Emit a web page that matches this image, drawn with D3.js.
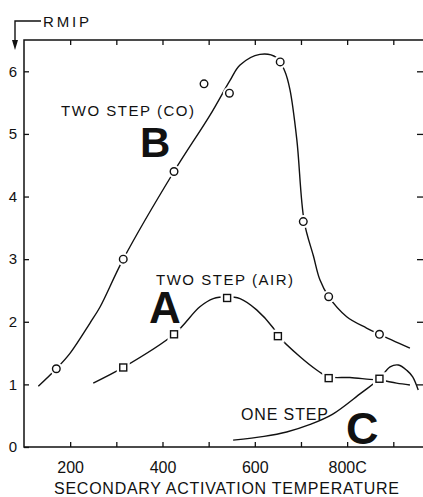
<!DOCTYPE html>
<html>
<head>
<meta charset="utf-8">
<script src="https://cdn.jsdelivr.net/npm/d3@7"></script>
<style>
  body { margin: 0; background: #fff; }
  text { font-family: "Liberation Sans", Arial, sans-serif; fill: #111; }
</style>
</head>
<body>
<svg id="chart"></svg>
<script>
// measured points (markers)
const bTemp = [170, 315, 425, 490, 545, 655, 705, 760, 870];
const bRmip = [1.25, 3.0, 4.4, 5.8, 5.65, 6.15, 3.6, 2.4, 1.8];
const aTemp = [315, 425, 540, 650, 760, 870];
const aRmip = [1.27, 1.8, 2.38, 1.77, 1.1, 1.09];

// hand drawn curves
const bCurveTemp = [131, 170, 200, 243, 265, 315, 425, 503, 546, 568, 611, 647, 665, 676, 691, 707, 727, 741, 760, 799, 842, 870, 936];
const bCurveRmip = [0.97, 1.25, 1.5, 1.98, 2.24, 3.0, 4.4, 5.3, 5.85, 6.1, 6.27, 6.22, 6.0, 5.71, 4.91, 3.6, 3.05, 2.67, 2.4, 2.08, 1.9, 1.8, 1.58];
const aCurveTemp = [250, 315, 425, 481, 510, 540, 568, 604, 640, 650, 698, 734, 760, 806, 849, 870, 907, 936];
const aCurveRmip = [1.02, 1.27, 1.8, 2.24, 2.37, 2.4, 2.37, 2.19, 1.9, 1.78, 1.44, 1.23, 1.12, 1.11, 1.08, 1.07, 1.02, 0.99];
const cCurveTemp = [553, 620, 669, 720, 768, 830, 870, 893, 911, 930, 942, 954];
const cCurveRmip = [0.11, 0.17, 0.24, 0.36, 0.52, 0.86, 1.09, 1.28, 1.31, 1.22, 1.12, 0.91];

const xTicks = [200, 300, 400, 500, 600, 700, 800, 900];
const xTickLabels = ["200", "", "400", "", "600", "", "800C", ""];
const yTicks = [0, 1, 2, 3, 4, 5, 6];

const W = 423, H = 497;
const m = { left: 24, right: 423, top: 40, bottom: 447 };

const svg = d3.select("#chart").attr("width", W).attr("height", H);
svg.append("rect").attr("width", W).attr("height", H).attr("fill", "#fff");

const x = d3.scaleLinear().domain([100, 960]).range([m.left, 421]);
const y = d3.scaleLinear().domain([0, 6.5]).range([m.bottom, m.top]);

const toPts = (xs, ys) => xs.map((t, i) => [t, ys[i]]);

// frame
svg.append("path")
  .attr("d", `M${m.right},${m.top}H${m.left}V${m.bottom}H${m.right}`)
  .attr("stroke", "#111").attr("stroke-width", 1.5).attr("fill", "none");

// axes
const tickStyle = g => {
  g.select(".domain").remove();
  g.selectAll(".tick line").attr("stroke", "#111").attr("stroke-width", 1.3);
};

svg.append("g")
  .attr("transform", `translate(${m.left},0)`)
  .call(d3.axisLeft(y).tickValues(yTicks).tickSize(-5).tickPadding(7).tickFormat(d3.format("d")))
  .call(tickStyle)
  .selectAll("text").style("font-size", "15px").style("font-family", "Liberation Sans, Arial, sans-serif");

svg.append("g")
  .attr("transform", `translate(0,${m.bottom})`)
  .call(d3.axisBottom(x).tickValues(xTicks).tickSize(-5).tickPadding(15).tickFormat((d, i) => xTickLabels[i]))
  .call(tickStyle)
  .selectAll("text").style("font-size", "16px").style("font-family", "Liberation Sans, Arial, sans-serif");

svg.append("g")
  .attr("transform", `translate(0,${m.top})`)
  .call(d3.axisTop(x).tickValues(xTicks).tickSize(-5).tickFormat(""))
  .call(tickStyle);

svg.append("g")
  .attr("transform", `translate(${m.right},0)`)
  .call(d3.axisRight(y).tickValues(yTicks.slice(1)).tickSize(-6).tickFormat(""))
  .call(tickStyle);

// curves
const line = d3.line().x(d => x(d[0])).y(d => y(d[1])).curve(d3.curveCatmullRom.alpha(0.5));
const curves = svg.append("g").attr("fill", "none").attr("stroke", "#111").attr("stroke-width", 1.4);
curves.append("path").attr("d", line(toPts(bCurveTemp, bCurveRmip)));
curves.append("path").attr("d", line(toPts(aCurveTemp, aCurveRmip)));
curves.append("path").attr("d", line(toPts(cCurveTemp, cCurveRmip)));

// markers with white halo so the lines stop short of them
const bPts = toPts(bTemp, bRmip), aPts = toPts(aTemp, aRmip);
const halo = svg.append("g").attr("fill", "#fff");
halo.selectAll(".hc").data(bPts).enter().append("circle")
  .attr("cx", d => x(d[0])).attr("cy", d => y(d[1])).attr("r", 6.5);
halo.selectAll(".hs").data(aPts).enter().append("rect")
  .attr("x", d => x(d[0]) - 6.5).attr("y", d => y(d[1]) - 6.5).attr("width", 13).attr("height", 13);

const marks = svg.append("g").attr("fill", "#fff").attr("stroke", "#111").attr("stroke-width", 1.4);
marks.selectAll("circle").data(bPts).enter().append("circle")
  .attr("cx", d => x(d[0])).attr("cy", d => y(d[1])).attr("r", 3.8);
marks.selectAll("rect").data(aPts).enter().append("rect")
  .attr("x", d => x(d[0]) - 3.5).attr("y", d => y(d[1]) - 3.5).attr("width", 7).attr("height", 7);

// labels
const lab = (tx, ty, s, size, weight, len) => {
  const t = svg.append("text").attr("x", tx).attr("y", ty)
    .style("font-size", size + "px").style("font-weight", weight).text(s);
  if (len) t.attr("textLength", len).attr("lengthAdjust", "spacing");
  return t;
};
lab(61, 116, "TWO STEP (CO)", 15, "normal", 133);
lab(140, 157, "B", 42, "bold");
lab(156, 285, "TWO STEP (AIR)", 15, "normal", 137);
lab(149, 323, "A", 44, "bold");
lab(241, 420, "ONE STEP", 16, "normal", 87);
lab(346, 444, "C", 45, "bold");

lab(43, 27, "RMIP", 15, "normal", 46);
svg.append("path").attr("d", "M41,21H15V41").attr("fill", "none").attr("stroke", "#111").attr("stroke-width", 1.4);
svg.append("path").attr("d", "M12,40L18,40L15,50Z").attr("fill", "#111");

svg.append("text").attr("x", 54).attr("y", 494)
  .attr("textLength", 345).attr("lengthAdjust", "spacing")
  .style("font-size", "16px")
  .text("SECONDARY ACTIVATION TEMPERATURE");
</script>
</body>
</html>
